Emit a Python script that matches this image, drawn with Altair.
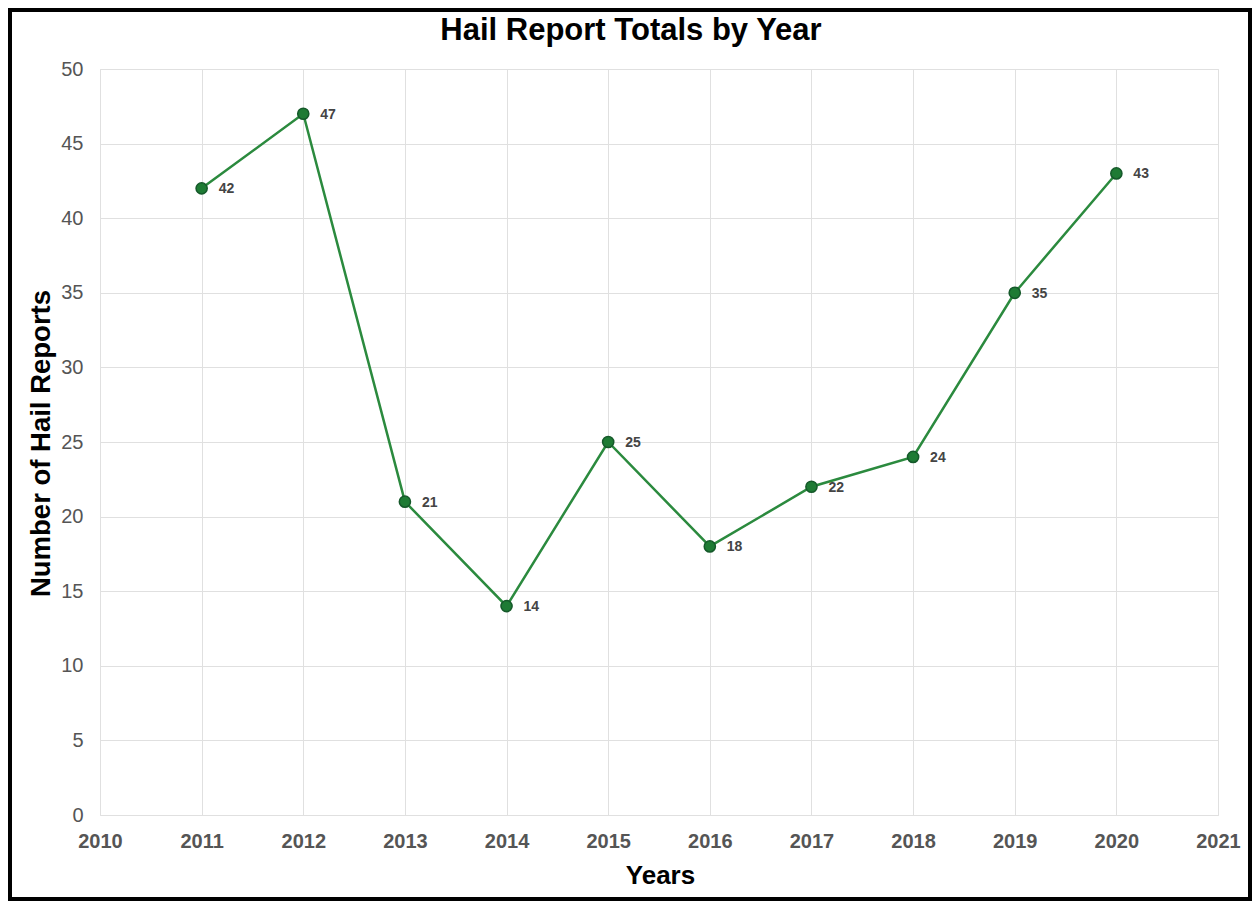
import altair as alt
import pandas as pd

years = [2011, 2012, 2013, 2014, 2015, 2016, 2017, 2018, 2019, 2020]
reports = [42, 47, 21, 14, 25, 18, 22, 24, 35, 43]
x_ticks = list(range(2010, 2022))
y_ticks = list(range(0, 51, 5))
chart_title = "Hail Report Totals by Year"

df = pd.DataFrame({"Year": years, "Reports": reports})

W, H = 1118, 746
PL, PT, PR, PB = 92, 61, 34, 86
FONT = "Liberation Sans"

x_enc = alt.X(
    "Year:Q",
    scale=alt.Scale(domain=[2010, 2021], nice=False, zero=False),
    axis=alt.Axis(
        values=x_ticks, format="d", title="Years",
        labelFont=FONT, labelFontSize=20, labelFontWeight="bold", labelColor="#555555",
        labelPadding=16, ticks=False, tickSize=0, domain=False,
        grid=True, gridColor="#e0e0e0", gridWidth=1,
        titleFont=FONT, titleFontSize=26, titleFontWeight="bold", titleColor="#000000",
        titleX=560, titleY=68, titleBaseline="alphabetic", titleAlign="center",
        labelFlush=False, labelOverlap=False,
    ),
)
y_enc = alt.Y(
    "Reports:Q",
    scale=alt.Scale(domain=[0, 50], nice=False),
    axis=alt.Axis(
        values=y_ticks, title="Number of Hail Reports",
        labelFont=FONT, labelFontSize=20, labelColor="#555555",
        labelPadding=17, ticks=False, tickSize=0, domain=False,
        grid=True, gridColor="#e0e0e0", gridWidth=1,
        titleFont=FONT, titleFontSize=27.5, titleFontWeight="bold", titleColor="#000000",
        titleX=-51, titleY=374, titleAngle=-90, titleBaseline="alphabetic", titleAlign="center",
        labelFlush=False, labelOverlap=False,
    ),
)

base = alt.Chart(df)

line = base.mark_line(color="#2b8a3e", strokeWidth=2.5).encode(x=x_enc, y=y_enc)
points = base.mark_circle(size=125, opacity=1, fill="#1e7b34", stroke="#15592a", strokeWidth=1.5).encode(
    x="Year:Q", y="Reports:Q"
)
labels = base.mark_text(
    align="left", baseline="middle", dx=17, dy=1,
    font=FONT, fontSize=14, fontWeight="bold", color="#444444",
).encode(x="Year:Q", y="Reports:Q", text="Reports:Q")

frame = alt.Chart(pd.DataFrame({"a": [0]})).mark_rect(
    fill=None, stroke="#000000", strokeWidth=4
).encode(
    x=alt.value(-PL + 2), x2=alt.value(W + PR - 2),
    y=alt.value(-PT + 2), y2=alt.value(H + PB - 2),
)

title_mark = alt.Chart(pd.DataFrame({"t": [chart_title]})).mark_text(
    align="center", baseline="alphabetic", font=FONT, fontSize=31,
    fontWeight="bold", color="#000000",
).encode(x=alt.value(531), y=alt.value(-29), text="t:N")

chart = alt.layer(frame, line, points, labels, title_mark).properties(
    width=W, height=H,
    autosize=alt.AutoSizeParams(type="none"),
    padding={"left": PL, "top": PT, "right": PR, "bottom": PB},
).configure_view(stroke=None).configure(background="#ffffff")

chart.save("out.html", embed_options={"renderer": "svg", "actions": False})
